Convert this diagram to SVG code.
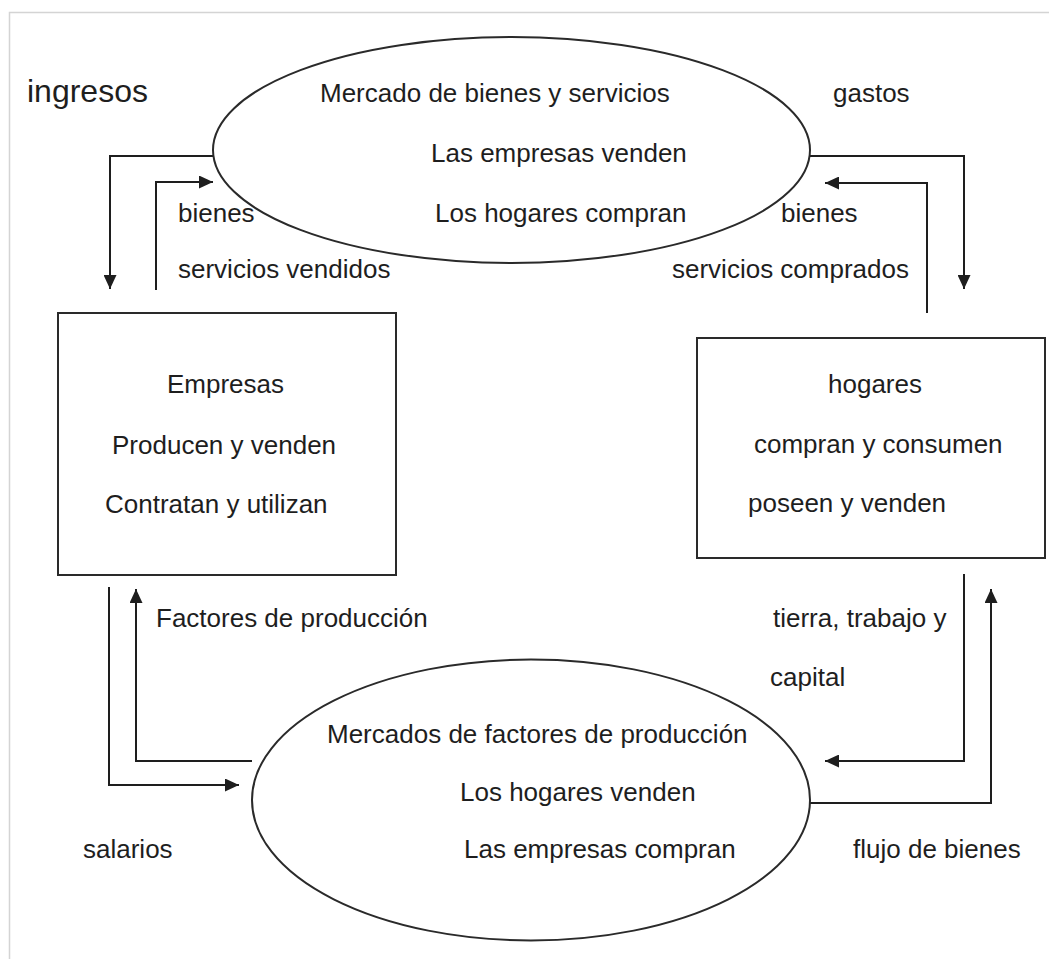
<svg xmlns="http://www.w3.org/2000/svg" width="1049" height="959" viewBox="0 0 1049 959">
<defs>
<style>
text{font-family:"Liberation Sans",Arial,sans-serif;font-size:26px;fill:#1e1e1e}
.big{font-size:32px}
.shape{fill:#fff;stroke:#2a2a2a;stroke-width:2}
.conn{fill:none;stroke:#1e1e1e;stroke-width:2}
</style>
<marker id="arr" markerUnits="userSpaceOnUse" markerWidth="14" markerHeight="13" refX="14" refY="6.5" orient="auto" viewBox="0 0 14 13">
<path d="M0,0 L14,6.5 L0,13 z" fill="#1e1e1e"/>
</marker>
</defs>
<rect x="0" y="0" width="1049" height="959" fill="#fff"/>
<rect x="9.5" y="12.5" width="1100" height="1000" fill="none" stroke="#d4d4d4" stroke-width="1.5"/>

<g id="connectors">
<path class="conn" d="M213,156 H110 V289" marker-end="url(#arr)"/>
<path class="conn" d="M156,290 V182 H213" marker-end="url(#arr)"/>
<path class="conn" d="M810,156 H964 V289" marker-end="url(#arr)"/>
<path class="conn" d="M927,313 V183 H825" marker-end="url(#arr)"/>
<path class="conn" d="M109,587 V785 H239" marker-end="url(#arr)"/>
<path class="conn" d="M252,761 H136 V589" marker-end="url(#arr)"/>
<path class="conn" d="M964,574 V761 H825" marker-end="url(#arr)"/>
<path class="conn" d="M810,803 H991 V589" marker-end="url(#arr)"/>
</g>

<g id="mercado-bienes">
<ellipse class="shape" cx="511.5" cy="150" rx="298.5" ry="113"/>
<text x="320" y="102">Mercado de bienes y servicios</text>
<text x="431" y="162">Las empresas venden</text>
<text x="435" y="222">Los hogares compran</text>
</g>

<g id="empresas">
<rect class="shape" x="58" y="313" width="338" height="262"/>
<text x="167" y="393">Empresas</text>
<text x="112" y="454">Producen y venden</text>
<text x="105" y="513">Contratan y utilizan</text>
</g>

<g id="hogares">
<rect class="shape" x="697" y="338" width="348" height="220"/>
<text x="828" y="393">hogares</text>
<text x="754" y="453">compran y consumen</text>
<text x="748" y="512">poseen y venden</text>
</g>

<g id="mercado-factores">
<ellipse class="shape" cx="531" cy="800" rx="279" ry="140.5"/>
<text x="327" y="743">Mercados de factores de producción</text>
<text x="460" y="801">Los hogares venden</text>
<text x="464" y="858">Las empresas compran</text>
</g>

<g id="labels">
<text class="big" x="27" y="102">ingresos</text>
<text x="833" y="102">gastos</text>
<text x="178" y="222">bienes</text>
<text x="178" y="278">servicios vendidos</text>
<text x="781" y="222">bienes</text>
<text x="672" y="278">servicios comprados</text>
<text x="156" y="627">Factores de producción</text>
<text x="773" y="627">tierra, trabajo y</text>
<text x="770" y="686">capital</text>
<text x="83" y="858">salarios</text>
<text x="853" y="858">flujo de bienes</text>
</g>
</svg>
